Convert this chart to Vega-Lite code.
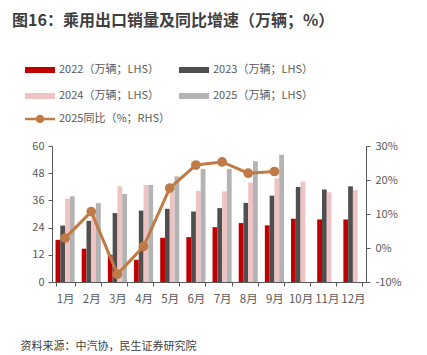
{
  "$schema": "https://vega.github.io/schema/vega-lite/v6.json",
  "width": 314,
  "height": 136,
  "autosize": {"type": "none"},
  "padding": {"left": 52, "top": 146, "right": 61, "bottom": 73},
  "background": "white",
  "config": {
    "font": "Noto Sans CJK SC",
    "view": {"stroke": null},
    "axis": {"labelFont": "Noto Sans CJK SC", "labelFontSize": 11, "labelColor": "#595959", "domainColor": "#595959", "tickColor": "#595959", "grid": false},
    "legend": {"labelFont": "Noto Sans CJK SC", "labelFontSize": 11, "labelColor": "#595959"}
  },
  "title": {
    "text": "图16：乘用出口销量及同比增速（万辆；%）",
    "frame": "group",
    "anchor": "start",
    "orient": "top",
    "offset": 13,
    "dx": -40,
    "baseline": "alphabetic",
    "fontSize": 16,
    "fontWeight": "bold",
    "color": "#3F3F3F",
    "font": "Noto Sans CJK SC"
  },
  "datasets": {
    "bars": [
      {"m": "1月", "s": "2022（万辆；LHS）", "v": 18.6},
      {"m": "1月", "s": "2023（万辆；LHS）", "v": 24.9},
      {"m": "1月", "s": "2024（万辆；LHS）", "v": 36.7},
      {"m": "1月", "s": "2025（万辆；LHS）", "v": 37.8},
      {"m": "2月", "s": "2022（万辆；LHS）", "v": 14.7},
      {"m": "2月", "s": "2023（万辆；LHS）", "v": 27.0},
      {"m": "2月", "s": "2024（万辆；LHS）", "v": 30.5},
      {"m": "2月", "s": "2025（万辆；LHS）", "v": 34.8},
      {"m": "3月", "s": "2022（万辆；LHS）", "v": 12.0},
      {"m": "3月", "s": "2023（万辆；LHS）", "v": 30.4},
      {"m": "3月", "s": "2024（万辆；LHS）", "v": 42.2},
      {"m": "3月", "s": "2025（万辆；LHS）", "v": 38.9},
      {"m": "4月", "s": "2022（万辆；LHS）", "v": 9.8},
      {"m": "4月", "s": "2023（万辆；LHS）", "v": 31.5},
      {"m": "4月", "s": "2024（万辆；LHS）", "v": 42.8},
      {"m": "4月", "s": "2025（万辆；LHS）", "v": 42.8},
      {"m": "5月", "s": "2022（万辆；LHS）", "v": 19.5},
      {"m": "5月", "s": "2023（万辆；LHS）", "v": 32.3},
      {"m": "5月", "s": "2024（万辆；LHS）", "v": 39.8},
      {"m": "5月", "s": "2025（万辆；LHS）", "v": 46.6},
      {"m": "6月", "s": "2022（万辆；LHS）", "v": 19.8},
      {"m": "6月", "s": "2023（万辆；LHS）", "v": 31.1},
      {"m": "6月", "s": "2024（万辆；LHS）", "v": 40.2},
      {"m": "6月", "s": "2025（万辆；LHS）", "v": 49.9},
      {"m": "7月", "s": "2022（万辆；LHS）", "v": 24.2},
      {"m": "7月", "s": "2023（万辆；LHS）", "v": 32.6},
      {"m": "7月", "s": "2024（万辆；LHS）", "v": 40.0},
      {"m": "7月", "s": "2025（万辆；LHS）", "v": 49.9},
      {"m": "8月", "s": "2022（万辆；LHS）", "v": 26.0},
      {"m": "8月", "s": "2023（万辆；LHS）", "v": 34.9},
      {"m": "8月", "s": "2024（万辆；LHS）", "v": 43.9},
      {"m": "8月", "s": "2025（万辆；LHS）", "v": 53.3},
      {"m": "9月", "s": "2022（万辆；LHS）", "v": 25.0},
      {"m": "9月", "s": "2023（万辆；LHS）", "v": 38.1},
      {"m": "9月", "s": "2024（万辆；LHS）", "v": 45.8},
      {"m": "9月", "s": "2025（万辆；LHS）", "v": 56.1},
      {"m": "10月", "s": "2022（万辆；LHS）", "v": 27.9},
      {"m": "10月", "s": "2023（万辆；LHS）", "v": 41.9},
      {"m": "10月", "s": "2024（万辆；LHS）", "v": 44.3},
      {"m": "11月", "s": "2022（万辆；LHS）", "v": 27.6},
      {"m": "11月", "s": "2023（万辆；LHS）", "v": 40.8},
      {"m": "11月", "s": "2024（万辆；LHS）", "v": 39.6},
      {"m": "12月", "s": "2022（万辆；LHS）", "v": 27.6},
      {"m": "12月", "s": "2023（万辆；LHS）", "v": 42.2},
      {"m": "12月", "s": "2024（万辆；LHS）", "v": 40.5}
    ],
    "yoy": [
      {"m": "1月", "yoy": 2.9},
      {"m": "2月", "yoy": 10.7},
      {"m": "3月", "yoy": -7.7},
      {"m": "4月", "yoy": 0.5},
      {"m": "5月", "yoy": 17.6},
      {"m": "6月", "yoy": 24.4},
      {"m": "7月", "yoy": 25.3},
      {"m": "8月", "yoy": 22.0},
      {"m": "9月", "yoy": 22.5}
    ]
  },
  "layer": [
    {
      "data": {"name": "bars"},
      "mark": {"type": "bar"},
      "encoding": {
        "x": {
          "field": "m", "type": "nominal",
          "scale": {"domain": ["1月","2月","3月","4月","5月","6月","7月","8月","9月","10月","11月","12月"], "paddingInner": 0.27, "paddingOuter": 0.135},
          "axis": {
            "labelAngle": 0, "tickBand": "extent", "tickSize": 4, "labelPadding": 7, "labelFontSize": 11.5,
            "title": "资料来源：中汽协，民生证券研究院",
            "titleX": -32, "titleY": 67, "titleAlign": "left", "titleAnchor": null, "titleBaseline": "alphabetic",
            "titleFontSize": 11, "titleFontWeight": "normal", "titleColor": "#404040", "titleFont": "Noto Sans CJK SC"
          }
        },
        "xOffset": {
          "field": "s", "type": "nominal",
          "scale": {"domain": ["2022（万辆；LHS）","2023（万辆；LHS）","2024（万辆；LHS）","2025（万辆；LHS）"], "paddingInner": 0, "paddingOuter": 0}
        },
        "y": {
          "field": "v", "type": "quantitative",
          "scale": {"domain": [0, 60], "nice": false},
          "axis": {"values": [0, 12, 24, 36, 48, 60], "title": null, "tickSize": 4, "labelPadding": 4}
        },
        "color": {
          "field": "s", "type": "nominal",
          "scale": {"domain": ["2022（万辆；LHS）","2023（万辆；LHS）","2024（万辆；LHS）","2025（万辆；LHS）"], "range": ["#C00000","#4F4F4F","#EFC3C3","#B3B3B3"]},
          "legend": {
            "title": null, "orient": "none", "legendX": -27, "legendY": -91, "columns": 2, "direction": "horizontal",
            "symbolType": "M-1,-0.2H1V0.2H-1Z", "symbolSize": 900, "symbolStrokeWidth": 0,
            "labelOffset": 4, "columnPadding": 20, "rowPadding": 6
          }
        }
      }
    },
    {
      "data": {"name": "yoy"},
      "mark": {"type": "line", "strokeWidth": 3, "point": {"filled": true, "size": 95}},
      "encoding": {
        "x": {"field": "m", "type": "nominal", "scale": {"domain": ["1月","2月","3月","4月","5月","6月","7月","8月","9月","10月","11月","12月"], "paddingInner": 0.27, "paddingOuter": 0.135}},
        "y": {
          "field": "yoy", "type": "quantitative",
          "scale": {"domain": [-10, 30], "nice": false},
          "axis": {"orient": "right", "values": [-10, 0, 10, 20, 30], "labelExpr": "datum.value + '%'", "title": null, "tickSize": 4, "labelPadding": 5}
        },
        "color": {
          "datum": "2025同比（%；RHS）",
          "scale": {"range": ["#C07A45"]},
          "legend": {
            "title": null, "orient": "none", "legendX": -27, "legendY": -42,
            "symbolType": "M-1,-0.09H1V0.09H-1Z M0.28,0 A0.28,0.28 0 1,1 -0.28,0 A0.28,0.28 0 1,1 0.28,0Z",
            "symbolSize": 900, "symbolStrokeWidth": 0, "symbolFillColor": "#C07A45", "labelOffset": 4,
            "symbolOpacity": 1,
            "symbolFillOpacity": 1
          }
        }
      }
    }
  ],
  "resolve": {"scale": {"y": "independent", "color": "independent"}}
}
